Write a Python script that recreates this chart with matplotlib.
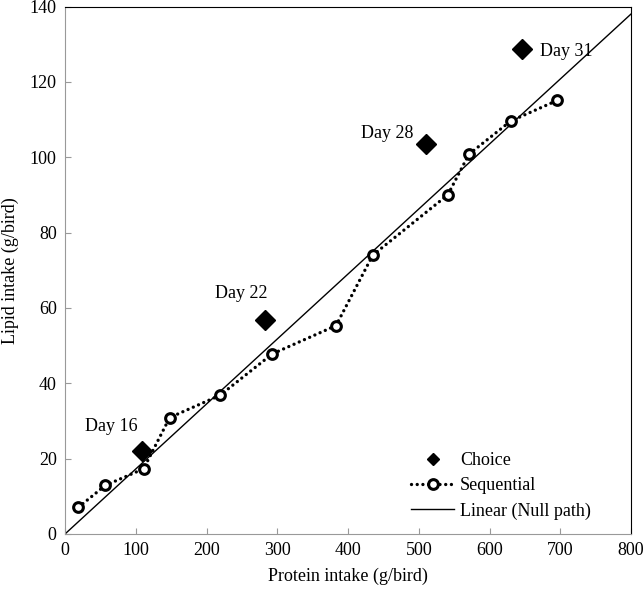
import matplotlib
matplotlib.use("Agg")
import matplotlib.pyplot as plt

# Sequential feeding path (protein, lipid intake in g/bird)
seq_protein = [19, 57, 111, 148, 219, 293, 383, 435, 541, 571, 630, 696]
seq_lipid = [7.1, 12.9, 17.3, 30.9, 36.8, 47.8, 55.3, 74.0, 90.0, 100.8, 109.6, 115.1]

# Choice feeding points
choice_protein = [109, 282, 510, 646]
choice_lipid = [21.9, 56.8, 103.4, 128.6]
choice_days = ["Day 16", "Day 22", "Day 28", "Day 31"]

# Linear null path
null_protein = [0, 800]
null_lipid = [0, 138]

xticks = [0, 100, 200, 300, 400, 500, 600, 700, 800]
yticks = [0, 20, 40, 60, 80, 100, 120, 140]

plt.rcParams["font.family"] = ["Liberation Serif", "DejaVu Serif"]
plt.rcParams["font.size"] = 13

fig = plt.figure(figsize=(6.44, 5.92), dpi=100)
ax = fig.add_axes([65 / 644, 58 / 592, 566 / 644, 527.5 / 592])

ax.plot(choice_protein, choice_lipid, linestyle="none", marker="D", markersize=10.5,
        color="black", label="Choice", zorder=4)
ax.plot(seq_protein, seq_lipid, linestyle=(0, (0.01, 1.7)), linewidth=2.4,
        dash_capstyle="round", color="black", marker="o", markersize=7,
        markerfacecolor="white", markeredgewidth=2.2, markeredgecolor="black",
        label="Sequential", zorder=3)
ax.plot(null_protein, null_lipid, color="black", linewidth=1.0,
        label="Linear (Null path)", zorder=2)

# day labels, offsets in pixels from the diamond
offsets = [(-31, 25, "center"), (-23, 26, "center"), (-39, 11, "center"), (18, -2, "left")]
for x, y, day, (dx, dy, ha) in zip(choice_protein, choice_lipid, choice_days, offsets):
    ax.annotate(day, (x, y), xytext=(dx * 0.72, dy * 0.72), textcoords="offset points",
                ha=ha, va="center", fontsize=13)

ax.set_xlim(0, 800)
ax.set_ylim(0, 140)
ax.set_xticks(xticks)
ax.set_yticks(yticks)
ax.tick_params(direction="in", length=4, color="#999999", labelsize=13, pad=6)
for side in ["left", "bottom"]:
    ax.spines[side].set_color("#999999")
for side in ["top", "right"]:
    ax.spines[side].set_color("black")

ax.set_xlabel("Protein intake (g/bird)", fontsize=13, labelpad=6)
ax.set_ylabel("Lipid intake (g/bird)", fontsize=13, labelpad=8)

leg = ax.legend(loc="upper left", bbox_to_anchor=(402 / 644, (592 - 443) / 592),
                bbox_transform=fig.transFigure, frameon=False, borderpad=0,
                handlelength=2.4, handletextpad=0.3, labelspacing=0.45, fontsize=13)
leg.legend_handles[0].set_markersize(6)

fig.savefig("out.png", dpi=100)
